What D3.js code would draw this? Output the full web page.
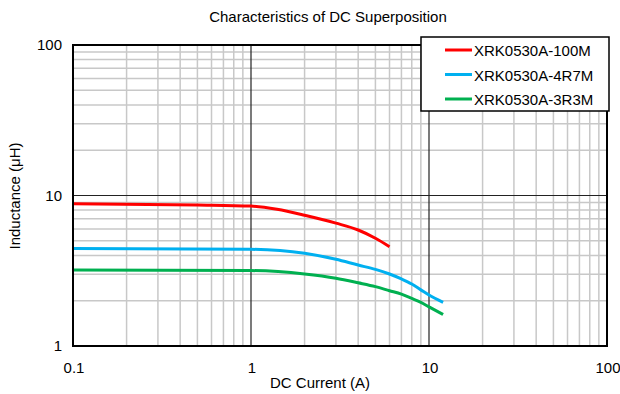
<!DOCTYPE html>
<meta charset="utf-8">
<script src="https://d3js.org/d3.v7.min.js"></script>
<style>
  body { margin: 0; background: #fff; }
  text { font-family: "Liberation Sans", Arial, sans-serif; }
</style>
<div id="chart"></div>
<script>

var seriesNames = ["XRK0530A-100M", "XRK0530A-4R7M", "XRK0530A-3R3M"],
  seriesColors = ["#ff0000", "#00b0f0", "#00b050"];

var red100M = [[0.1, 8.8], [0.5, 8.65], [1, 8.5], [1.4, 8.1], [2, 7.4], [3, 6.55], [4, 5.9], [5, 5.2], [6, 4.57]];
var blue4R7M = [[0.1, 4.45], [1, 4.39], [2, 4.13], [3, 3.77], [4, 3.45], [5, 3.23], [6, 3.01], [7, 2.79], [8, 2.58], [9, 2.36], [10, 2.18], [12, 1.95]];
var green3R3M = [[0.1, 3.2], [1, 3.17], [2, 3.01], [3, 2.82], [4, 2.63], [5, 2.48], [6, 2.33], [7, 2.21], [8, 2.07], [9, 1.95], [10, 1.82], [12, 1.62]];

var xTicks = [0.1, 1, 10, 100],
  yTicks = [1, 10, 100];

var width = 620, height = 394,
  margin = {top: 45, right: 13, bottom: 48, left: 73};

var svg = d3.select("#chart")
  .append("svg")
    .attr("width", width)
    .attr("height", height);

var x = d3.scaleLog().domain([0.1, 100]).range([margin.left, width - margin.right]);
var y = d3.scaleLog().domain([1, 100]).range([height - margin.bottom, margin.top]);

// minor grid
var minorX = [], minorY = [];
[0.1, 1, 10].forEach(function(d) {
  for (var i = 2; i <= 9; i++) minorX.push(d * i);
});
[1, 10].forEach(function(d) {
  for (var i = 2; i <= 9; i++) minorY.push(d * i);
});

svg.selectAll("minorx")
  .data(minorX)
  .enter()
  .append("line")
    .attr("x1", function(d){ return x(d) }).attr("x2", function(d){ return x(d) })
    .attr("y1", y(1)).attr("y2", y(100))
    .attr("stroke", "#c8c8c8").attr("stroke-width", 1.5)

svg.selectAll("minory")
  .data(minorY)
  .enter()
  .append("line")
    .attr("y1", function(d){ return y(d) }).attr("y2", function(d){ return y(d) })
    .attr("x1", x(0.1)).attr("x2", x(100))
    .attr("stroke", "#c8c8c8").attr("stroke-width", 1.5)

// major grid
svg.selectAll("majorx")
  .data([1, 10])
  .enter()
  .append("line")
    .attr("x1", function(d){ return x(d) }).attr("x2", function(d){ return x(d) })
    .attr("y1", y(1)).attr("y2", y(100))
    .attr("stroke", "#222").attr("stroke-width", 1.2)

svg.selectAll("majory")
  .data([10])
  .enter()
  .append("line")
    .attr("y1", function(d){ return y(d) }).attr("y2", function(d){ return y(d) })
    .attr("x1", x(0.1)).attr("x2", x(100))
    .attr("stroke", "#222").attr("stroke-width", 1.2)

// curves
var line = d3.line()
  .x(function(d){ return x(d[0]) })
  .y(function(d){ return y(d[1]) })
  .curve(d3.curveMonotoneX);

svg.selectAll("curves")
  .data([red100M, blue4R7M, green3R3M])
  .enter()
  .append("path")
    .attr("d", line)
    .style("fill", "none")
    .attr("stroke", function(d, i){ return seriesColors[i] })
    .attr("stroke-width", 3)

// frame
svg.append("rect")
  .attr("x", x(0.1)).attr("y", y(100))
  .attr("width", x(100) - x(0.1)).attr("height", y(1) - y(100))
  .style("fill", "none")
  .attr("stroke", "#000").attr("stroke-width", 2)

// tick labels
svg.selectAll("xlabels")
  .data(xTicks)
  .enter()
  .append("text")
    .attr("x", function(d){ return x(d) + 1 })
    .attr("y", height - margin.bottom + 27)
    .text(function(d){ return d })
    .style("text-anchor", "middle")
    .style("font-size", "15px")

svg.selectAll("ylabels")
  .data(yTicks)
  .enter()
  .append("text")
    .attr("x", margin.left - 11)
    .attr("y", function(d){ return y(d) + 5 })
    .text(function(d){ return d })
    .style("text-anchor", "end")
    .style("font-size", "15px")

// titles
svg.append("text")
  .attr("x", 328).attr("y", 22)
  .text("Characteristics of DC Superposition")
  .style("text-anchor", "middle").style("font-size", "15px")

svg.append("text")
  .attr("x", 320).attr("y", 388)
  .text("DC Current (A)")
  .style("text-anchor", "middle").style("font-size", "15px")

svg.append("text")
  .attr("transform", "translate(20,196) rotate(-90)")
  .text("Inductance (μH)")
  .style("text-anchor", "middle").style("font-size", "15px")

// legend
var legend = svg.append("g").attr("transform", "translate(421,37)");
legend.append("rect")
  .attr("width", 188).attr("height", 74)
  .style("fill", "#fff")
  .attr("stroke", "#000").attr("stroke-width", 1.5)

var items = legend.selectAll("items")
  .data(seriesNames)
  .enter()
  .append("g")
    .attr("transform", function(d, i){ return "translate(0," + (13 + i * 24.5) + ")" })

items.append("line")
  .attr("x1", 24).attr("x2", 51)
  .attr("stroke", function(d, i){ return seriesColors[i] })
  .attr("stroke-width", 3)

items.append("text")
  .attr("x", 53).attr("y", 6)
  .text(function(d){ return d })
  .style("font-size", "15px")

</script>
